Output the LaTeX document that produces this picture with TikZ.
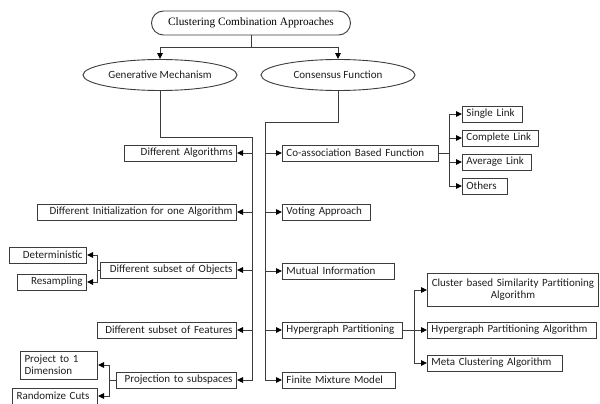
\documentclass[tikz,border=0pt]{standalone}
\usepackage{fontspec}
\setmainfont{Carlito}
\newfontfamily\titlefont{Liberation Serif}
\usetikzlibrary{arrows.meta,shapes.geometric}

\definecolor{Cline}{HTML}{3C3C3C}
\definecolor{Ctext}{HTML}{1E1E1E}

\tikzset{
	box/.style={draw=Cline,line width=0.9pt,text=Ctext,font=\fontsize{11}{12}\selectfont,
		inner xsep=4pt,inner ysep=0pt,minimum height=16pt},
	oval/.style={ellipse,draw=Cline,line width=0.9pt,text=Ctext,font=\fontsize{11}{12}\selectfont,
		minimum width=154pt,minimum height=31pt,inner sep=0pt},
	link/.style={draw=Cline,line width=0.9pt},
	arr/.style={link,-{Triangle[length=6pt,width=5.5pt,color=black]}}
}

\begin{document}
\begin{tikzpicture}[x=1pt,y=-1pt]
		\useasboundingbox (0,0) rectangle (600,404);
		% top
		\node[draw=Cline,line width=0.9pt,rounded corners=12pt,minimum width=199pt,minimum height=24pt,
			font=\titlefont\fontsize{11.3}{12}\selectfont] (title) at (251,23) {Clustering Combination Approaches};
		\node[oval] (gen) at (160,75) {Generative Mechanism};
		\node[oval] (cons) at (338,75) {Consensus Function};
		\draw[link] (title.south) -- ++(0,12) coordinate (split);
		\draw[arr] (split) -| (gen.north);
		\draw[arr] (split) -| (cons.north);

		% generative side
		\foreach \n/\y/\w/\t in {g1/153/104/Different Algorithms,
				g2/212/191/Different Initialization for one Algorithm,
				g3/270/128/Different subset of Objects,
				g4/330/131/Different subset of Features,
				g5/380/112/Projection to subspaces}{
				\node[box,anchor=east,text width=\w pt,align=right] (\n) at (237,\y) {\t};}
		\coordinate (gtop) at (252,137);
		\draw[arr] (gen.south) |- (gtop) |- (g5.east);
		\foreach \n in {g1,g2,g3,g4}
			\draw[arr] (\n.east -| gtop) -- (\n.east);

		\node[box,anchor=east,text width=69pt,align=right] (o1) at (87,255) {Deterministic};
		\node[box,anchor=east,text width=61pt,align=right] (o2) at (87,282) {Resampling};
		\draw[link] (g3.west) -- ++(-3,0) coordinate (oj);
		\draw[arr] (oj) |- (o1.east);
		\draw[arr] (oj) |- (o2.east);

		\node[box,anchor=east,text width=69pt,align=left,minimum height=28pt] (p1) at (98,365) {Project to 1\\Dimension};
		\node[box,anchor=east,text width=77pt,align=left] (p2) at (98,396) {Randomize Cuts};
		\draw[link] (g5.west) -- ++(-7,0) coordinate (pj);
		\draw[arr] (pj) |- (p1.east);
		\draw[arr] (pj) |- (p2.east);

		% consensus side
		\foreach \n/\y/\w/\t in {c1/153/148/Co-association Based Function,
				c2/212/80/Voting Approach,
				c3/271/104/Mutual Information,
				c4/330/112/Hypergraph Partitioning,
				c5/380/105/Finite Mixture Model}{
				\node[box,anchor=west,text width=\w pt,align=left] (\n) at (282,\y) {\t};}
		\coordinate (ctop) at (265,122);
		\draw[arr] (cons.south) |- (ctop) |- (c5.west);
		\foreach \n in {c1,c2,c3,c4}
			\draw[arr] (\n.west -| ctop) -- (\n.west);

		\foreach \n/\y/\w/\t in {l1/114/52/Single Link,l2/138/68/Complete Link,
				l3/162/61/Average Link,l4/186/37/Others}{
				\node[box,anchor=west,text width=\w pt,align=left] (\n) at (462,\y) {\t};}
		\draw[link] (c1.east) -- ++(11,0) coordinate (cj);
		\foreach \n in {l1,l2,l3,l4}
			\draw[arr] (cj) |- (\n.west);

		\node[box,anchor=west,text width=163pt,align=center,minimum height=33pt] (h1) at (427,290)
			{Cluster based Similarity Partitioning\\Algorithm};
		\node[box,anchor=west,text width=161pt,align=left] (h2) at (427,330) {Hypergraph Partitioning Algorithm};
		\node[box,anchor=west,text width=127pt,align=left] (h3) at (427,363) {Meta Clustering Algorithm};
		\draw[link] (c4.east) -- ++(12,0) coordinate (hj);
		\foreach \n in {h1,h2,h3}
			\draw[arr] (hj) |- (\n.west);
	\end{tikzpicture}
\end{document}
